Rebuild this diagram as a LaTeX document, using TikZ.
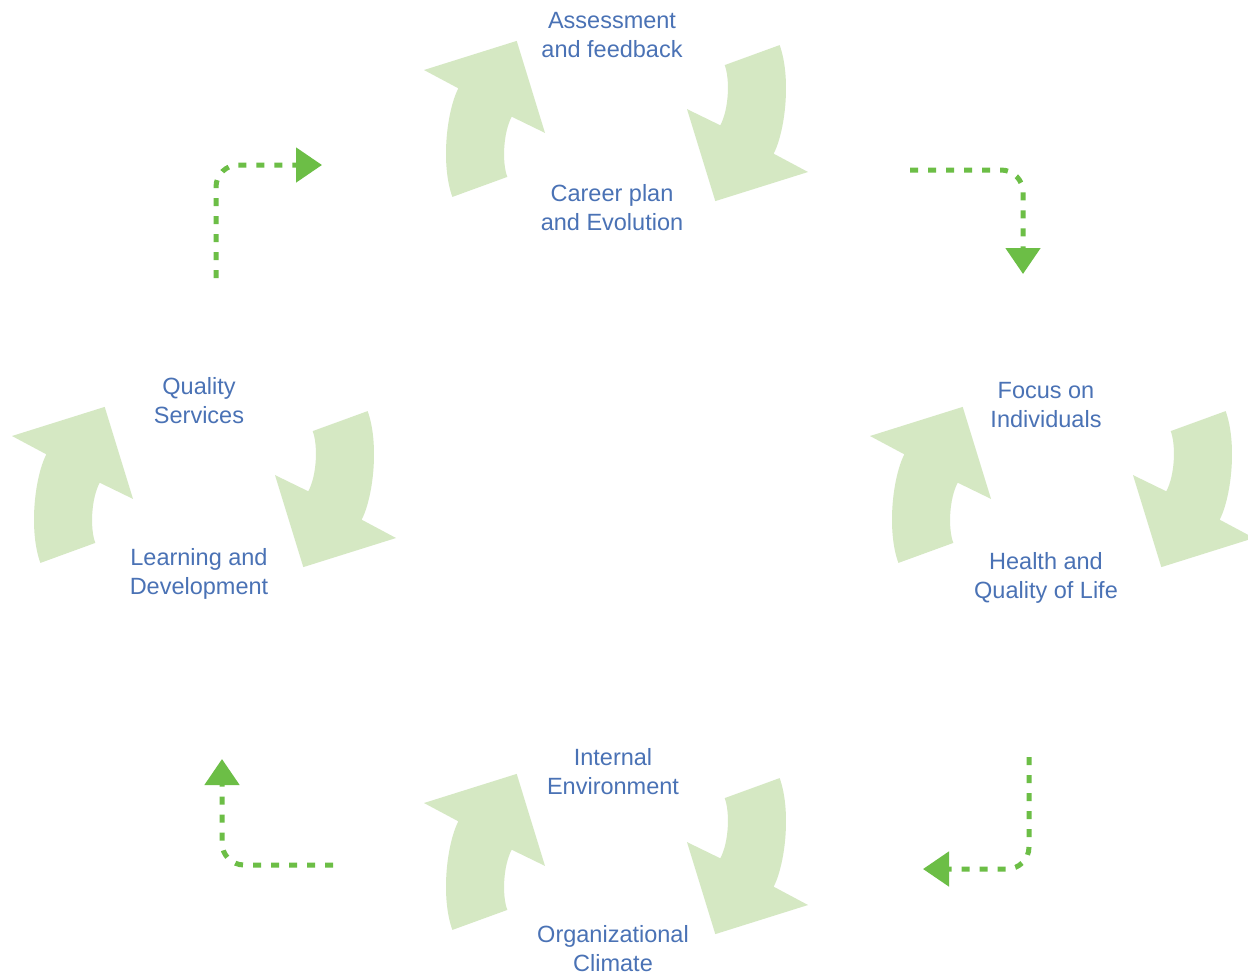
\documentclass[tikz,border=0pt]{standalone}
\usepackage{fontspec}
\setmainfont{Liberation Sans}
\usetikzlibrary{arrows.meta}
\definecolor{arrowfill}{RGB}{213,232,195}
\definecolor{dashgreen}{RGB}{108,190,70}
\definecolor{textblue}{RGB}{74,114,181}
\tikzset{
  cyclearrow/.style={fill=arrowfill, draw=none},
  label/.style={text=textblue, align=center, inner sep=0pt, font=\fontsize{23.5}{29}\selectfont},
  flowlink/.style={draw=dashgreen, line width=5pt, dash pattern=on 8pt off 10pt, rounded corners=22pt,
    -{Triangle[length=26pt,width=34pt]}},
}
\newcommand\arrowpair[1]{%
  \begin{scope}[shift={#1}]
    \foreach \r in {0,180}{
      \fill[cyclearrow, rotate=\r] (-163.6,75.9) -- (-108.7,55.9)
        .. controls (-114,42) and (-113,12) .. (-104.3,-4.3)
        -- (-71,11.9) -- (-99.3,-80.1) -- (-192,-51) -- (-157.7,-32.7)
        .. controls (-170,-8) and (-175,45) .. (-163.6,75.9) -- cycle;
    }
  \end{scope}}
\begin{document}
\begin{tikzpicture}[x=1pt,y=-1pt]
\clip (0,0) rectangle (1248,978);
\fill[white] (0,0) rectangle (1248,978);
\arrowpair{(616,121)}
\arrowpair{(204,487)}
\arrowpair{(1062,487)}
\arrowpair{(616,854)}
\node[label] (assess) at (612,35) {Assessment\\and feedback};
\node[label] (career) at (612,208) {Career plan\\and Evolution};
\node[label] (quality) at (199,401) {Quality\\Services};
\node[label] (learning) at (199,574) {Learning and\\Development};
\node[label] (focus) at (1046,405) {Focus on\\Individuals};
\node[label] (health) at (1046,578) {Health and\\Quality of Life};
\node[label] (internal) at (613,772) {Internal\\Environment};
\node[label] (climate) at (613,949) {Organizational\\Climate};
% connector end points
\coordinate (tlS) at (216,278); \coordinate (tlC) at (216,165); \coordinate (tlE) at (322,165);
\coordinate (trS) at (910,170); \coordinate (trC) at (1023,170); \coordinate (trE) at (1023,274);
\coordinate (brS) at (1029,757); \coordinate (brC) at (1029,869); \coordinate (brE) at (923,869);
\coordinate (blS) at (333,865); \coordinate (blC) at (222,865); \coordinate (blE) at (222,759);
\draw[flowlink] (tlS) -- (tlC) -- (tlE);
\draw[flowlink] (trS) -- (trC) -- (trE);
\draw[flowlink] (brS) -- (brC) -- (brE);
\draw[flowlink] (blS) -- (blC) -- (blE);
\end{tikzpicture}
\end{document}
